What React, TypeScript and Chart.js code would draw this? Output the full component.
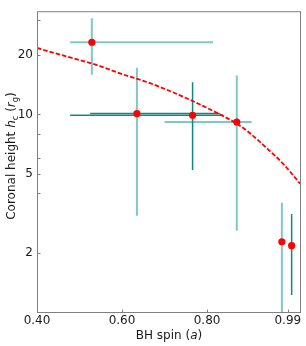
import { useEffect, useRef } from 'react';
import { Chart, registerables } from 'chart.js';
Chart.register(...registerables);

// Measured sources
const spin = [0.529, 0.635, 0.766, 0.870, 0.976, 0.999];
const height = [23.2, 10.1, 9.9, 9.16, 2.27, 2.17];
const spinLo = [0.478, 0.525, 0.478, 0.700, null, null];
const spinHi = [0.814, 0.830, 0.838, 0.905, null, null];
const heightLo = [15.9, 3.07, 5.23, 2.58, 0.8, 1.22];
const heightHi = [30.7, 17.25, 14.55, 15.76, 3.58, 3.14];
const vBarTone = ['light', 'light', 'dark', 'light', 'light', 'dark'];
const hBarTone = ['light', 'dark', 'dark', 'light', 'light', 'dark'];

// Model curve
const curveSpin = [0.40, 0.45, 0.54, 0.60, 0.666, 0.766, 0.835, 0.870, 0.901, 0.940, 0.980, 1.019];
const curveHeight = [21.7, 20.2, 17.8, 16.0, 14.4, 11.7, 9.89, 8.99, 8.03, 6.77, 5.60, 4.46];

// Ticks
const xTicks = [0.40, 0.60, 0.80, 0.99];
const yTicks = [2, 5, 10, 20];
const yMinorTicks = [4, 6, 8, 30];

const LIGHT = '#80c8c4';
const DARK = '#108884';
const FONT = 'DejaVu Sans';
const AXIS = '#808080';
const TEXT = '#1a1a1a';

type Part = { t: string; it?: boolean; sub?: boolean };

function drawRich(ctx: CanvasRenderingContext2D, parts: Part[], cx: number, cy: number, size: number) {
  const fontOf = (p: Part) => `${p.it ? 'italic ' : ''}${p.sub ? size * 0.7 : size}px "${FONT}"`;
  let w = 0;
  for (const p of parts) {
    ctx.font = fontOf(p);
    w += ctx.measureText(p.t).width;
  }
  let x = cx - w / 2;
  ctx.textBaseline = 'alphabetic';
  ctx.textAlign = 'left';
  for (const p of parts) {
    ctx.font = fontOf(p);
    ctx.fillText(p.t, x, cy + size * 0.36 + (p.sub ? size * 0.25 : 0));
    x += ctx.measureText(p.t).width;
  }
}

const framePlugin = {
  id: 'frame',
  afterDraw(chart: any) {
    const { ctx, chartArea: a, scales } = chart;
    ctx.save();
    ctx.strokeStyle = AXIS;
    ctx.lineWidth = 1;
    ctx.strokeRect(a.left + 0.5, a.top + 0.5, a.right - a.left - 1, a.bottom - a.top - 1);
    ctx.beginPath();
    for (const v of xTicks) {
      const px = Math.round(scales.x.getPixelForValue(v)) + 0.5;
      ctx.moveTo(px, a.bottom);
      ctx.lineTo(px, a.bottom - 3.5);
    }
    for (const v of [...yTicks, ...yMinorTicks]) {
      const py = Math.round(scales.y.getPixelForValue(v)) + 0.5;
      ctx.moveTo(a.left, py);
      ctx.lineTo(a.left + 3.5, py);
    }
    ctx.stroke();
    ctx.fillStyle = TEXT;
    drawRich(ctx, [{ t: 'BH spin (' }, { t: 'a', it: true }, { t: ')' }], (a.left + a.right) / 2, 335, 12);
    ctx.translate(11, 156);
    ctx.rotate(-Math.PI / 2);
    drawRich(
      ctx,
      [
        { t: 'Coronal height ' },
        { t: 'h', it: true },
        { t: 'c', sub: true },
        { t: ' (' },
        { t: 'r', it: true },
        { t: 'g', sub: true },
        { t: ')' },
      ],
      0,
      0,
      12
    );
    ctx.restore();
  },
};

export default function App() {
  const ref = useRef<HTMLCanvasElement>(null);
  useEffect(() => {
    const datasets: any[] = [];
    datasets.push({
      data: spin.map((x, i) => ({ x, y: height[i] })),
      showLine: false,
      pointRadius: 3.6,
      pointBackgroundColor: '#ff0000',
      pointBorderColor: '#ff0000',
      pointBorderWidth: 0,
      order: 0,
    });
    datasets.push({
      data: curveSpin.map((x, i) => ({ x, y: curveHeight[i] })),
      showLine: true,
      pointRadius: 0,
      borderColor: '#ff0000',
      borderWidth: 1.8,
      borderDash: [4.5, 2],
      cubicInterpolationMode: 'monotone',
      order: 1,
    });
    spin.forEach((x, i) => {
      const vc = vBarTone[i] === 'dark' ? DARK : LIGHT;
      const hc = hBarTone[i] === 'dark' ? DARK : LIGHT;
      datasets.push({
        data: [
          { x, y: heightLo[i] },
          { x, y: heightHi[i] },
        ],
        showLine: true,
        pointRadius: 0,
        borderColor: vc,
        borderWidth: vBarTone[i] === 'dark' ? 1.5 : 2,
        order: vBarTone[i] === 'dark' ? 2 : 3,
      });
      if (spinLo[i] != null && spinHi[i] != null) {
        datasets.push({
          data: [
            { x: spinLo[i], y: height[i] },
            { x: spinHi[i], y: height[i] },
          ],
          showLine: true,
          pointRadius: 0,
          borderColor: hc,
          borderWidth: hBarTone[i] === 'dark' ? 1.5 : 2,
          order: hBarTone[i] === 'dark' ? 2 : 3,
        });
      }
    });

    const chart = new Chart(ref.current as HTMLCanvasElement, {
      type: 'scatter',
      data: { datasets },
      options: {
        responsive: false,
        animation: false,
        devicePixelRatio: 1,
        layout: { padding: { top: 3, right: 5, left: 0, bottom: 0 } },
        plugins: { legend: { display: false }, tooltip: { enabled: false } },
        elements: { line: { tension: 0 } },
        scales: {
          x: {
            type: 'linear',
            min: 0.4,
            max: 1.021,
            afterBuildTicks: (s: any) => {
              s.ticks = xTicks.map((v) => ({ value: v }));
            },
            afterFit: (s: any) => {
              s.height = 33;
            },
            ticks: {
              callback: (v: any) => Number(v).toFixed(2),
              font: { family: FONT, size: 12 },
              color: TEXT,
              padding: 1,
              maxRotation: 0,
              autoSkip: false,
            },
            grid: { display: false, drawTicks: false },
            border: { display: false },
          },
          y: {
            type: 'logarithmic',
            min: 0.99,
            max: 33.3,
            afterBuildTicks: (s: any) => {
              s.ticks = yTicks.map((v) => ({ value: v }));
            },
            afterFit: (s: any) => {
              s.width = 37;
            },
            ticks: {
              callback: (v: any) => String(v),
              font: { family: FONT, size: 12 },
              color: TEXT,
              padding: 4,
              autoSkip: false,
            },
            grid: { display: false, drawTicks: false },
            border: { display: false },
          },
        },
      },
      plugins: [framePlugin],
    });
    return () => chart.destroy();
  }, []);
  return (
    <div style={{ position: 'absolute', left: 0, top: 0, width: 306, height: 346, background: '#fff' }}>
      <canvas ref={ref} width={306} height={346} style={{ width: 306, height: 346, display: 'block' }} />
    </div>
  );
}
